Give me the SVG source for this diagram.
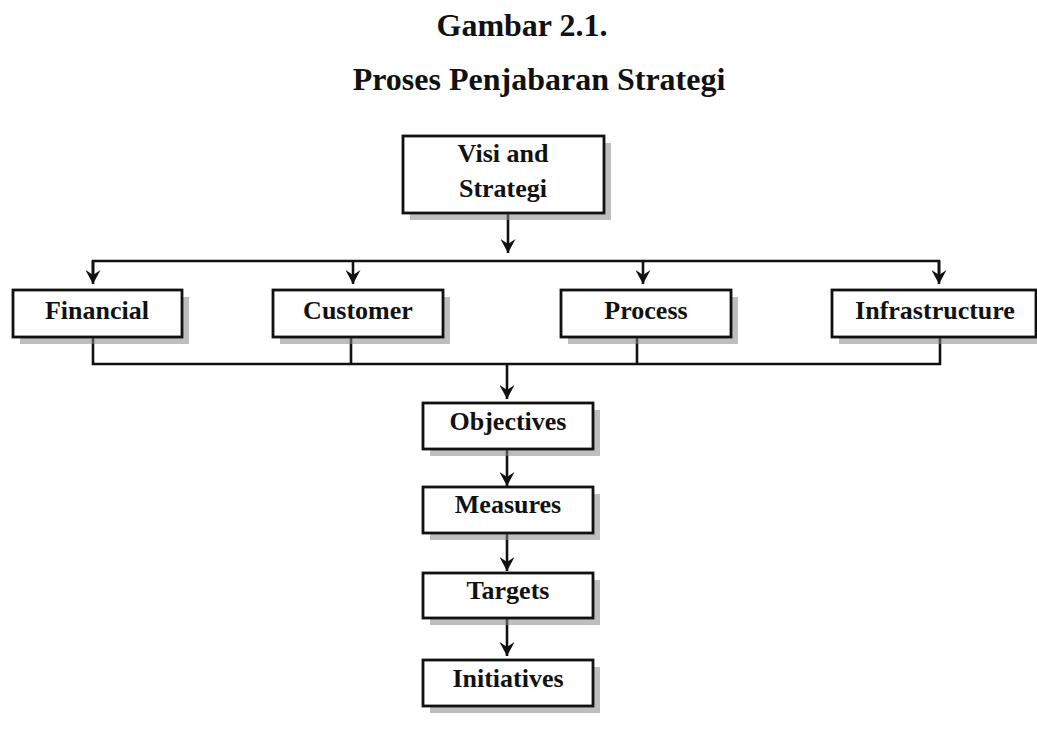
<svg xmlns="http://www.w3.org/2000/svg" width="1037" height="751" viewBox="0 0 1037 751">
<defs>
<marker id="ah" viewBox="0 0 14 15" refX="14" refY="7.5" markerWidth="14" markerHeight="15" markerUnits="userSpaceOnUse" orient="auto">
<path d="M0,0 L14,7.5 L0,15 L5,7.5 z" fill="#111"/>
</marker>
</defs>
<style>
.box{fill:#fff;stroke:#111;stroke-width:2.8}
.sh{fill:#888;opacity:0.55}
.t{font-family:"Liberation Serif","Times New Roman",serif;font-weight:bold;font-size:26px;fill:#111;text-anchor:middle}
.title{font-family:"Liberation Serif","Times New Roman",serif;font-weight:bold;font-size:32px;fill:#111;text-anchor:middle}
.ln{fill:none;stroke:#111;stroke-width:2.6}
.ar{fill:none;stroke:#111;stroke-width:2.6;marker-end:url(#ah)}
</style>
<rect width="1037" height="751" fill="#fff"/>
<g id="title">
<text class="title" x="522" y="36">Gambar 2.1.</text>
<text class="title" x="539" y="90">Proses Penjabaran Strategi</text>
</g>
<g id="connectors">
<line class="ar" x1="508" y1="213" x2="508" y2="253"/>
<polyline class="ln" points="93,275 93,261 939,261 939,275"/>
<line class="ar" x1="93" y1="261" x2="93" y2="284"/>
<line class="ar" x1="353" y1="261" x2="353" y2="284"/>
<line class="ar" x1="643" y1="261" x2="643" y2="284"/>
<line class="ar" x1="939" y1="261" x2="939" y2="284"/>
<polyline class="ln" points="93,337 93,364 940,364 940,337"/>
<line class="ln" x1="351" y1="337" x2="351" y2="364"/>
<line class="ln" x1="637" y1="337" x2="637" y2="364"/>
<line class="ar" x1="507" y1="364" x2="507" y2="399"/>
<line class="ar" x1="507" y1="449" x2="507" y2="486"/>
<line class="ar" x1="507" y1="533" x2="507" y2="571"/>
<line class="ar" x1="507" y1="618" x2="507" y2="656"/>
</g>
<g id="visi">
<rect class="sh" x="410" y="143" width="201" height="77"/>
<rect class="box" x="403" y="136" width="201" height="77"/>
<text class="t" x="503" y="162">Visi and</text>
<text class="t" x="503" y="197">Strategi</text>
</g>
<g id="financial">
<rect class="sh" x="20" y="297" width="169" height="47"/>
<rect class="box" x="13" y="290" width="169" height="47"/>
<text class="t" x="97" y="319">Financial</text>
</g>
<g id="customer">
<rect class="sh" x="280" y="297" width="170" height="47"/>
<rect class="box" x="273" y="290" width="170" height="47"/>
<text class="t" x="358" y="319">Customer</text>
</g>
<g id="process">
<rect class="sh" x="568" y="297" width="170" height="47"/>
<rect class="box" x="561" y="290" width="170" height="47"/>
<text class="t" x="646" y="319">Process</text>
</g>
<g id="infrastructure">
<rect class="sh" x="839" y="297" width="204" height="47"/>
<rect class="box" x="832" y="290" width="204" height="47"/>
<text class="t" x="935" y="319">Infrastructure</text>
</g>
<g id="objectives">
<rect class="sh" x="430" y="410" width="170" height="46"/>
<rect class="box" x="423" y="403" width="170" height="46"/>
<text class="t" x="508" y="430">Objectives</text>
</g>
<g id="measures">
<rect class="sh" x="430" y="494" width="170" height="46"/>
<rect class="box" x="423" y="487" width="170" height="46"/>
<text class="t" x="508" y="513">Measures</text>
</g>
<g id="targets">
<rect class="sh" x="430" y="580" width="170" height="45"/>
<rect class="box" x="423" y="573" width="170" height="45"/>
<text class="t" x="508" y="599">Targets</text>
</g>
<g id="initiatives">
<rect class="sh" x="430" y="667" width="170" height="46"/>
<rect class="box" x="423" y="660" width="170" height="46"/>
<text class="t" x="508" y="687">Initiatives</text>
</g>
</svg>
